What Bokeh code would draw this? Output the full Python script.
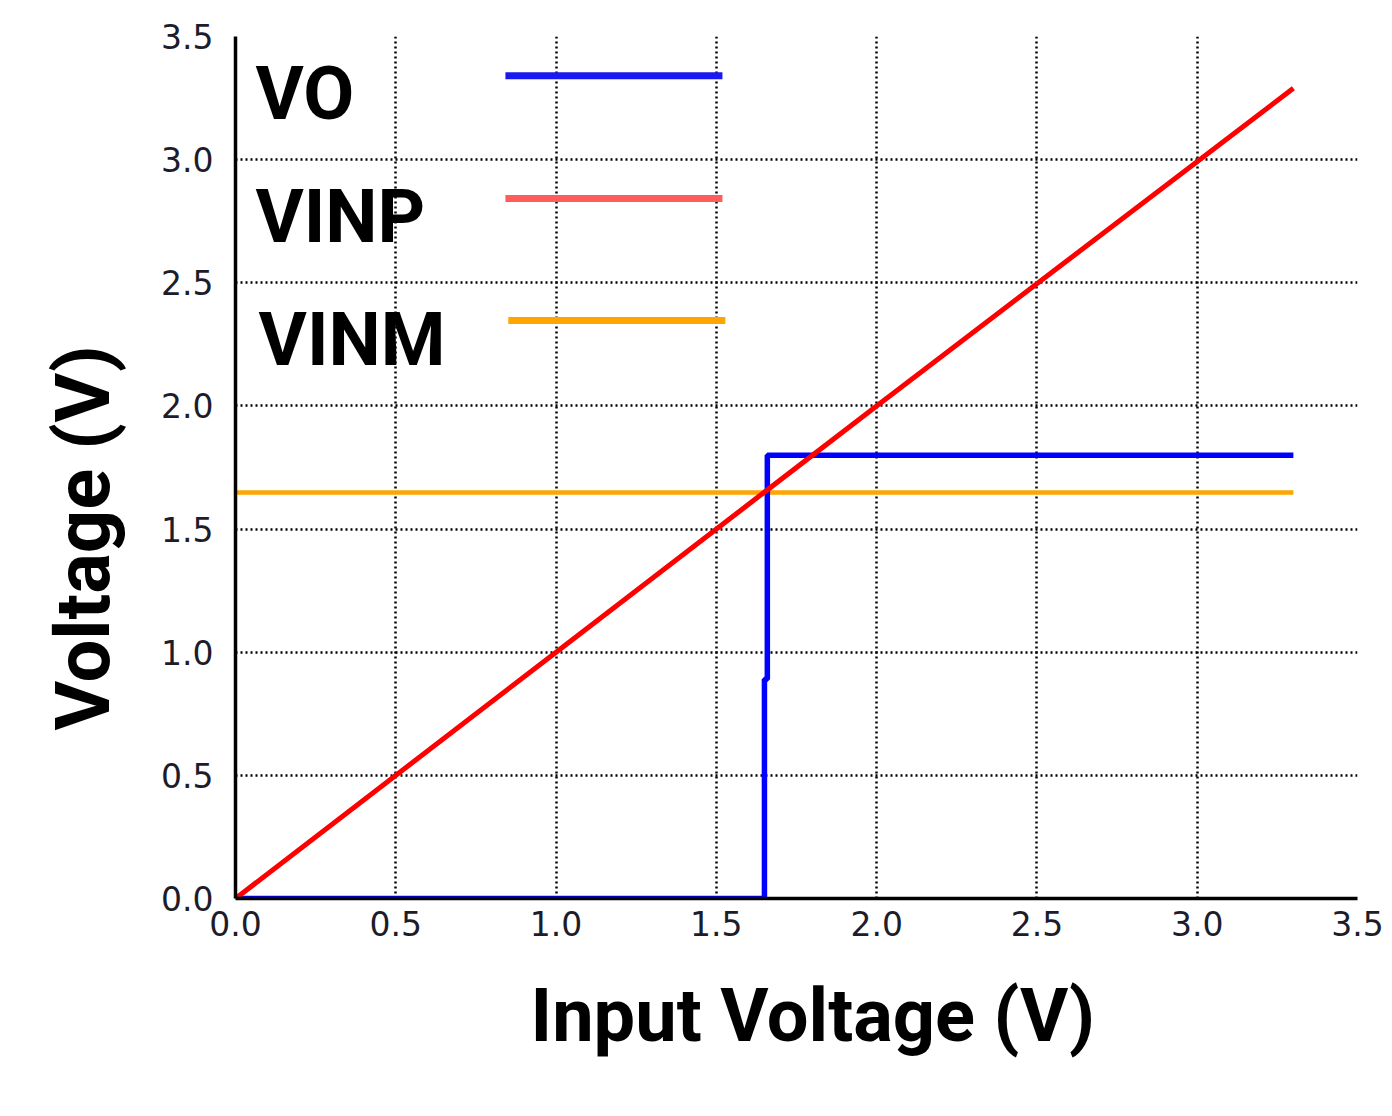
from bokeh.plotting import figure
from bokeh.models import Range1d, FixedTicker, NumeralTickFormatter, Title
from bokeh.core.properties import value
from bokeh.embed import file_html
from bokeh.resources import INLINE

# ---- data ----
ticks = [0.0, 0.5, 1.0, 1.5, 2.0, 2.5, 3.0, 3.5]

vinp_x = [0.0, 1.0, 2.0, 3.3]
vinp_y = [0.0, 1.0, 2.0, 3.29]

vo_x = [0.0, 1.650, 1.650, 1.659, 1.659, 3.3]
vo_y = [0.0, 0.0, 0.89, 0.89, 1.8, 1.8]

vinm_x = [0.0, 3.3]
vinm_y = [1.648, 1.648]

legend_names = ["VO", "VINP", "VINM"]
legend_colors = ["#1a1aee", "#ff5c5c", "#ffa500"]

x_label = "Input Voltage  (V)"
y_label = "Voltage  (V)"

# ---- layout/style ----
FONT = "Roboto"
TICK_FONT = "DejaVu Sans"

p = figure(width=1392, height=1116, output_backend="svg", toolbar_location=None,
           x_range=Range1d(0, 3.5), y_range=Range1d(0, 3.5),
           min_border_left=235, min_border_right=35, min_border_top=36,
           min_border_bottom=218)
p.outline_line_color = None
p.background_fill_color = "white"
p.border_fill_color = "white"

for ax in (p.xaxis[0], p.yaxis[0]):
    ax.ticker = FixedTicker(ticks=ticks)
    ax.formatter = NumeralTickFormatter(format="0.0")
    ax.axis_line_color = "black"
    ax.axis_line_width = 3.5
    ax.major_tick_line_color = None
    ax.minor_tick_line_color = None
    ax.major_tick_out = 0
    ax.major_tick_in = 0
    ax.major_label_text_font = TICK_FONT
    ax.major_label_text_font_size = "33px"
    ax.major_label_text_color = "#1c1c2a"
p.xaxis[0].major_label_standoff = 12
p.yaxis[0].major_label_standoff = 22

for g in (p.xgrid[0], p.ygrid[0]):
    g.ticker = FixedTicker(ticks=ticks)
    g.grid_line_color = "black"
    g.grid_line_width = 2.5
    g.grid_line_dash = "2 3"
    g.grid_line_alpha = 1.0

p.line(vinm_x, vinm_y, line_color="#ffa500", line_width=4.5)
p.line(vo_x, vo_y, line_color="#0000ff", line_width=5.5)
p.line(vinp_x, vinp_y, line_color="#ff0000", line_width=5)

# legend (drawn manually: label then line to its right)
leg_text_x = [0.062, 0.062, 0.072]
leg_text_y = [3.268, 2.769, 2.270]
leg_line_x0 = [0.842, 0.842, 0.851]
leg_line_x1 = [1.519, 1.519, 1.528]
leg_line_y = [3.341, 2.842, 2.347]
p.text(x=leg_text_x, y=leg_text_y, text=legend_names,
       text_font=value(FONT), text_font_style="bold", text_font_size="74px",
       text_color="black", text_baseline="alphabetic", text_align="left")
p.segment(x0=leg_line_x0, y0=leg_line_y, x1=leg_line_x1, y1=leg_line_y,
          line_color=legend_colors, line_width=7)

# axis titles
p.add_layout(Title(text=x_label, align="left", offset=295, standoff=62,
                   text_font=FONT, text_font_style="bold",
                   text_font_size="74px", text_color="black"), "below")
p.add_layout(Title(text=y_label, align="left", offset=168, standoff=62,
                   text_font=FONT, text_font_style="bold",
                   text_font_size="76px", text_color="black"), "left")

open("out.html", "w").write(file_html(p, INLINE))
